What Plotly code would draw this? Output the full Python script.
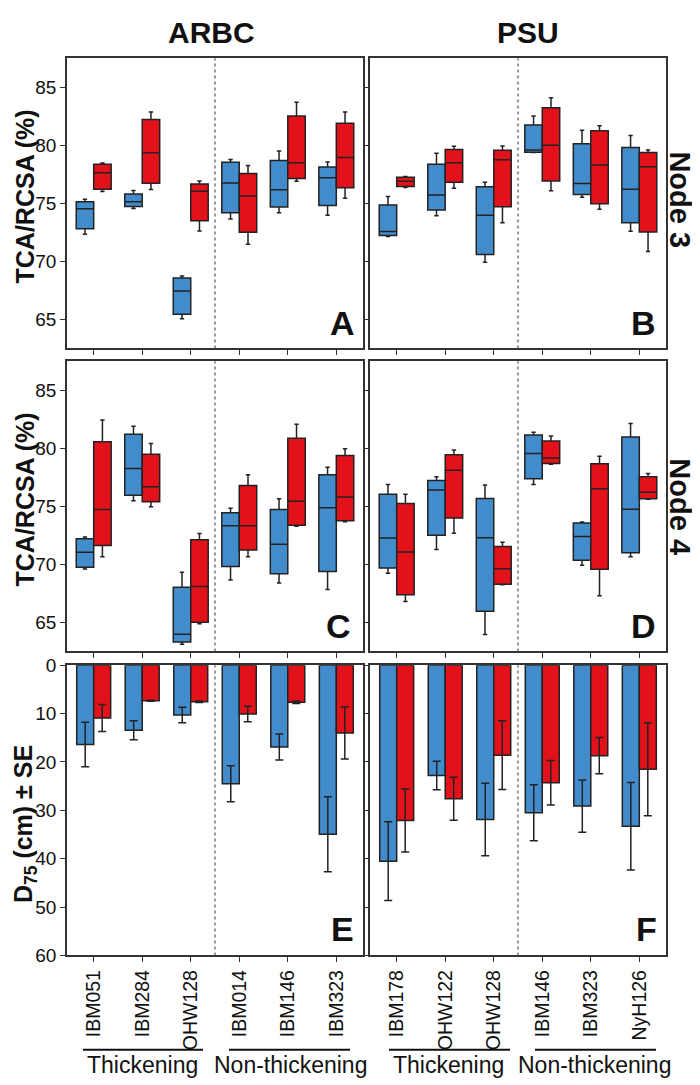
import plotly.graph_objects as go

# ---------------- data ----------------
cats_arbc = ["IBM051", "IBM284", "OHW128", "IBM014", "IBM146", "IBM323"]
cats_psu = ["IBM178", "OHW122", "OHW128", "IBM146", "IBM323", "NyH126"]

# Box statistics: lower whisker, Q1, median, Q3, upper whisker
# Panel A (ARBC, Node 3)
a_blue_low = [72.34, 74.56, 65.06, 73.66, 74.20, 73.97]
a_blue_q1 = [72.82, 74.73, 65.45, 74.20, 74.68, 74.82]
a_blue_med = [74.54, 75.13, 67.45, 76.76, 76.17, 77.21]
a_blue_q3 = [75.13, 75.80, 68.57, 78.53, 78.70, 78.14]
a_blue_up = [75.35, 76.11, 68.74, 78.78, 79.51, 78.56]
a_red_low = [76.03, 76.20, 72.62, 71.47, 76.90, 75.44]
a_red_q1 = [76.22, 76.73, 73.50, 72.51, 77.15, 76.34]
a_red_med = [77.63, 79.35, 76.05, 75.63, 78.50, 78.95]
a_red_q3 = [78.36, 82.22, 76.67, 77.57, 82.52, 81.90]
a_red_up = [78.47, 82.86, 76.93, 78.25, 83.71, 82.86]

# Panel B (PSU, Node 3)
b_blue_low = [72.15, 73.94, 69.92, 79.37, 75.52, 72.60]
b_blue_q1 = [72.24, 74.42, 70.60, 79.40, 75.77, 73.33]
b_blue_med = [72.57, 75.72, 73.97, 79.60, 76.70, 76.22]
b_blue_q3 = [74.85, 78.36, 76.42, 81.74, 80.14, 79.82]
b_blue_up = [75.59, 79.32, 76.81, 82.52, 81.29, 80.84]
b_red_low = [76.37, 76.31, 73.33, 76.08, 74.49, 70.85]
b_red_q1 = [76.45, 76.81, 74.70, 76.93, 74.96, 72.54]
b_red_med = [76.90, 78.50, 78.76, 80.00, 78.30, 78.16]
b_red_q3 = [77.24, 79.63, 79.57, 83.23, 81.26, 79.37]
b_red_up = [77.32, 79.91, 79.94, 84.10, 81.68, 79.60]

# Panel C (ARBC, Node 4)
c_blue_low = [69.61, 75.48, 63.12, 68.65, 68.40, 67.84]
c_blue_q1 = [69.75, 75.96, 63.31, 69.83, 69.19, 69.38]
c_blue_med = [71.04, 78.26, 63.99, 73.34, 71.74, 74.89]
c_blue_q3 = [72.22, 81.21, 68.03, 74.44, 74.72, 77.72]
c_blue_up = [72.36, 81.91, 69.33, 74.83, 75.65, 78.37]
c_red_low = [70.65, 74.97, 64.89, 70.67, 73.29, 73.68]
c_red_q1 = [71.63, 75.39, 65.03, 71.24, 73.37, 73.76]
c_red_med = [74.72, 76.69, 68.09, 73.34, 75.45, 75.81]
c_red_q3 = [80.56, 79.49, 72.13, 76.80, 80.87, 79.38]
c_red_up = [82.44, 80.42, 72.67, 77.72, 82.08, 79.97]

# Panel D (PSU, Node 4)
d_blue_low = [69.25, 71.28, 63.96, 76.89, 69.93, 70.66]
d_blue_q1 = [69.70, 72.52, 65.96, 77.37, 70.35, 71.00]
d_blue_med = [72.27, 76.41, 72.30, 79.56, 72.41, 74.75]
d_blue_q3 = [76.04, 77.23, 75.68, 81.14, 73.56, 80.97]
d_blue_up = [76.89, 77.54, 76.83, 81.39, 73.65, 82.13]
d_red_low = [66.80, 72.69, 68.24, 78.63, 67.31, 75.62]
d_red_q1 = [67.39, 73.99, 68.30, 78.69, 69.59, 75.65]
d_red_med = [71.06, 78.10, 69.62, 79.17, 76.52, 76.21]
d_red_q3 = [75.25, 79.45, 71.55, 80.63, 78.66, 77.54]
d_red_up = [76.04, 79.85, 71.92, 81.06, 79.31, 77.82]

# Panel E (ARBC, D75) and F (PSU, D75): mean and SE (cm)
e_blue_mean = [16.4, 13.45, 10.3, 24.5, 16.9, 34.95]
e_blue_se = [4.6, 1.96, 1.6, 3.7, 2.7, 7.75]
e_red_mean = [10.9, 7.35, 7.55, 10.1, 7.65, 14.0]
e_red_se = [2.8, 0.1, 0.15, 1.6, 0.25, 5.4]
f_blue_mean = [40.5, 22.8, 31.9, 30.5, 29.1, 33.3]
f_blue_se = [8.15, 2.95, 7.5, 5.8, 5.4, 9.05]
f_red_mean = [32.1, 27.6, 18.6, 24.3, 18.7, 21.5]
f_red_se = [6.5, 4.45, 7.1, 4.6, 3.75, 9.6]

# ---------------- style ----------------
W, H = 700, 1085
BLUE = "#428CCC"
RED = "#E3111A"
EDGE = "#222222"
FRAME = "#333333"
FONT = "Liberation Sans, Arial, sans-serif"


def px(x):
    return x / W


def py(y):
    return 1 - y / H


fig = go.Figure()

box_sets = [
    ("x", "y", cats_arbc,
     (a_blue_low, a_blue_q1, a_blue_med, a_blue_q3, a_blue_up),
     (a_red_low, a_red_q1, a_red_med, a_red_q3, a_red_up)),
    ("x2", "y2", cats_psu,
     (b_blue_low, b_blue_q1, b_blue_med, b_blue_q3, b_blue_up),
     (b_red_low, b_red_q1, b_red_med, b_red_q3, b_red_up)),
    ("x3", "y3", cats_arbc,
     (c_blue_low, c_blue_q1, c_blue_med, c_blue_q3, c_blue_up),
     (c_red_low, c_red_q1, c_red_med, c_red_q3, c_red_up)),
    ("x4", "y4", cats_psu,
     (d_blue_low, d_blue_q1, d_blue_med, d_blue_q3, d_blue_up),
     (d_red_low, d_red_q1, d_red_med, d_red_q3, d_red_up)),
]

for xa, ya, cats, blue, red in box_sets:
    for stats, col, nm in ((blue, BLUE, "blue"), (red, RED, "red")):
        lo, q1, med, q3, up = stats
        fig.add_trace(go.Box(
            x=cats, lowerfence=lo, q1=q1, median=med, q3=q3, upperfence=up,
            xaxis=xa, yaxis=ya, name=nm, offsetgroup=nm,
            fillcolor=col, line=dict(color=EDGE, width=1.5),
            whiskerwidth=0.25, boxpoints=False, showlegend=False,
            hoverinfo="skip",
        ))

bar_sets = [
    ("x5", "y5", cats_arbc, (e_blue_mean, e_blue_se), (e_red_mean, e_red_se)),
    ("x6", "y6", cats_psu, (f_blue_mean, f_blue_se), (f_red_mean, f_red_se)),
]
for xa, ya, cats, blue, red in bar_sets:
    for (mean, se), col, nm in ((blue, BLUE, "blue"), (red, RED, "red")):
        fig.add_trace(go.Bar(
            x=cats, y=mean, xaxis=xa, yaxis=ya, name=nm, offsetgroup=nm,
            marker=dict(color=col, line=dict(color=EDGE, width=1.5)),
            error_y=dict(type="data", array=se, visible=True,
                         color=EDGE, thickness=1.5, width=4),
            showlegend=False, hoverinfo="skip",
        ))

# ---------------- axes ----------------
xdom_l = [px(59), px(355)]
xdom_r = [px(362), px(658)]
ydoms = [[py(337), py(41)], [py(646), py(350)], [py(956), py(660)]]

axis_common = dict(
    showline=True, mirror=True, linecolor=FRAME, linewidth=1.5,
    ticks="outside", ticklen=5, tickwidth=1.2, tickcolor=FRAME,
    showgrid=False, zeroline=False,
    tickfont=dict(family=FONT, size=19, color="#111"),
)

layout_axes = {}
panels = [  # (x name, y name, xdomain, ydomain, show y labels, show x labels, kind)
    ("xaxis", "yaxis", xdom_l, ydoms[0], True, False, "box", cats_arbc),
    ("xaxis2", "yaxis2", xdom_r, ydoms[0], False, False, "box", cats_psu),
    ("xaxis3", "yaxis3", xdom_l, ydoms[1], True, False, "box", cats_arbc),
    ("xaxis4", "yaxis4", xdom_r, ydoms[1], False, False, "box", cats_psu),
    ("xaxis5", "yaxis5", xdom_l, ydoms[2], True, True, "bar", cats_arbc),
    ("xaxis6", "yaxis6", xdom_r, ydoms[2], False, True, "bar", cats_psu),
]
for i, (xn, yn, xd, yd, ylab, xlab, kind, cats) in enumerate(panels):
    idx = "" if i == 0 else str(i + 1)
    xax = dict(axis_common)
    xax.update(domain=xd, anchor="y" + idx, type="category",
               categoryorder="array", categoryarray=cats,
               range=[-0.55, 5.55], showticklabels=xlab, tickangle=-90,
               tickfont=dict(family=FONT, size=19.5, color="#111"))
    yax = dict(axis_common)
    if kind == "box":
        yax.update(domain=yd, anchor="x" + idx, range=[62.5, 87.5],
                   tickvals=[65, 70, 75, 80, 85], showticklabels=ylab)
    else:
        yax.update(domain=yd, anchor="x" + idx, range=[60, 0],
                   tickvals=[0, 10, 20, 30, 40, 50, 60], showticklabels=ylab)
    layout_axes[xn] = xax
    layout_axes[yn] = yax

fig.update_layout(**layout_axes)

# dotted separators between groups
shapes = []
for i in range(6):
    idx = "" if i == 0 else str(i + 1)
    shapes.append(dict(type="line", xref="x" + idx, yref="y" + idx + " domain",
                       x0=2.5, x1=2.5, y0=0, y1=1,
                       line=dict(color="#555", width=1.2, dash="dot")))

# group underlines
for x0, x1 in ((75, 195), (221, 342), (381, 502), (527, 648)):
    shapes.append(dict(type="line", xref="paper", yref="paper",
                       x0=px(x0), x1=px(x1), y0=py(1052), y1=py(1052),
                       line=dict(color="#111", width=2)))

annotations = []


def ann(text, x, y, size, bold=False, angle=0, xanchor="center", yanchor="middle"):
    annotations.append(dict(
        text=f"<b>{text}</b>" if bold else text, x=px(x), y=py(y),
        xref="paper", yref="paper", showarrow=False, textangle=angle,
        xanchor=xanchor, yanchor=yanchor,
        font=dict(family=FONT, size=size, color="#111"),
    ))


ann("ARBC", 203, 15, 30, bold=True)
ann("PSU", 520, 15, 30, bold=True)
ann("Node 3", 672, 185, 29, bold=True, angle=90)
ann("Node 4", 672, 498, 29, bold=True, angle=90)
ann("TCA/RCSA (%)", 17, 182, 25, bold=True, angle=-90)
ann("TCA/RCSA (%)", 17, 491, 25, bold=True, angle=-90)
ann("D<sub>75</sub> (cm) ± SE", 17, 822, 25, bold=True, angle=-90)

for letter, xr, yc in (("A", 349, 311), ("B", 650, 311), ("C", 345, 620),
                       ("D", 650, 620), ("E", 348, 929), ("F", 651, 929)):
    ann(letter, xr, yc, 34, bold=True, xanchor="right")

for text, xc in (("Thickening", 134.5), ("Non-thickening", 282),
                 ("Thickening", 440), ("Non-thickening", 586)):
    ann(text, xc, 1068, 23)

fig.update_layout(
    width=W, height=H,
    margin=dict(l=0, r=0, t=0, b=0),
    paper_bgcolor="white", plot_bgcolor="white",
    boxmode="group", boxgap=0.28, boxgroupgap=0,
    barmode="group", bargap=0.3, bargroupgap=0,
    shapes=shapes, annotations=annotations,
    showlegend=False,
)

fig.write_html("out.html")
